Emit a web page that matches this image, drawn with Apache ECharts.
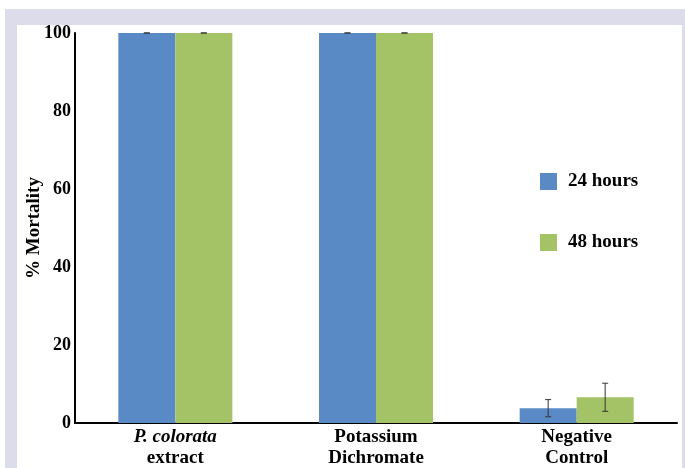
<!DOCTYPE html>
<html><head><meta charset="utf-8">
<script src="https://cdn.jsdelivr.net/npm/echarts@6/dist/echarts.min.js"></script>
<style>html,body{margin:0;padding:0;background:#fff}#c{width:685px;height:468px}</style>
</head><body><div id="c"></div>
<script>
var categories = ['P. colorata extract', 'Potassium Dichromate', 'Negative Control'];
var mort24 = [100, 100, 3.8];
var mort48 = [100, 100, 6.6];
var err24 = [0, 0, 2.2];
var err48 = [0, 0, 3.6];
var yTicks = [0, 20, 40, 60, 80, 100];

var BAR_W = 57;
var font = '"Liberation Serif", "Times New Roman", serif';
var chart = echarts.init(document.getElementById('c'));

function errSeries(vals, errs, offset) {
  return {
    type: 'custom',
    z: 5,
    data: vals.map(function (v, i) { return [i, v - errs[i], v + errs[i]]; }),
    renderItem: function (params, api) {
      var lo = api.coord([api.value(0), api.value(1)]);
      var hi = api.coord([api.value(0), api.value(2)]);
      var x = lo[0] + offset;
      var cap = 3;
      var st = { stroke: '#333', lineWidth: 1 };
      return { type: 'group', children: [
        { type: 'line', shape: { x1: x, y1: lo[1], x2: x, y2: hi[1] }, style: st },
        { type: 'line', shape: { x1: x - cap, y1: lo[1], x2: x + cap, y2: lo[1] }, style: st },
        { type: 'line', shape: { x1: x - cap, y1: hi[1], x2: x + cap, y2: hi[1] }, style: st }
      ]};
    }
  };
}

chart.setOption({
  animation: false,
  backgroundColor: '#fff',
  graphic: [
    { type: 'rect', z: -10, shape: { x: 5, y: 9, width: 680, height: 459 }, style: { fill: '#dcdcea' } },
    { type: 'rect', z: -9, shape: { x: 17, y: 25, width: 665, height: 443 }, style: { fill: '#ffffff' } }
  ],
  grid: { left: 75, right: 8, top: 33, bottom: 43 },
  legend: {
    orient: 'vertical',
    left: 540, top: 172, padding: 0,
    itemWidth: 17, itemHeight: 17, itemGap: 42,
    data: ['24 hours', '48 hours'],
    textStyle: { fontFamily: font, fontWeight: 'bold', fontSize: 19, color: '#000', padding: [0, 0, 0, 6] },
    icon: 'rect'
  },
  xAxis: {
    type: 'category',
    data: categories,
    axisLine: { lineStyle: { color: '#000', width: 2 } },
    axisTick: { show: false },
    axisLabel: {
      margin: 4,
      interval: 0,
      formatter: function (v, i) {
        if (i === 0) return '{it|P. colorata}\n{b|extract}';
        if (i === 1) return '{b|Potassium}\n{b|Dichromate}';
        return '{b|Negative}\n{b|Control}';
      },
      rich: {
        it: { fontFamily: font, fontWeight: 'bold', fontStyle: 'italic', fontSize: 19, color: '#000', lineHeight: 21 },
        b: { fontFamily: font, fontWeight: 'bold', fontSize: 19, color: '#000', lineHeight: 21 }
      }
    }
  },
  yAxis: {
    type: 'value',
    min: yTicks[0], max: yTicks[yTicks.length - 1], interval: 20,
    name: '% Mortality',
    nameLocation: 'middle',
    nameGap: 31,
    nameMoveOverlap: false,
    nameTextStyle: { fontFamily: font, fontWeight: 'bold', fontSize: 19, color: '#000' },
    axisLine: { show: true, lineStyle: { color: '#000', width: 2 } },
    axisTick: { show: false },
    splitLine: { show: false },
    axisLabel: { fontFamily: font, fontWeight: 'bold', fontSize: 18, color: '#000', margin: 4 }
  },
  series: [
    { name: '24 hours', type: 'bar', data: mort24, barWidth: BAR_W, barGap: '0%', itemStyle: { color: '#5a8ac6' } },
    { name: '48 hours', type: 'bar', data: mort48, barWidth: BAR_W, barGap: '0%', itemStyle: { color: '#a4c266' } },
    errSeries(mort24, err24, -BAR_W / 2),
    errSeries(mort48, err48, BAR_W / 2)
  ]
});
</script></body></html>
